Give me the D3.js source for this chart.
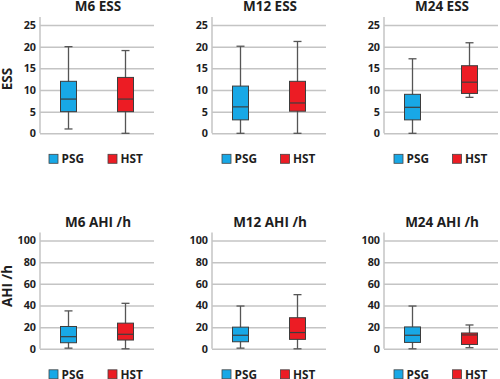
<!DOCTYPE html>
<html><head><meta charset="utf-8">
<script src="https://cdn.jsdelivr.net/npm/d3@7"></script>
<style>
body{margin:0;background:#fff;}
svg{display:block;font-family:"Open Sans",Lato,sans-serif;font-weight:700;}
</style></head>
<body>
<svg id="c" width="500" height="379"></svg>
<script>
const groups = ["PSG","HST"];
const colors = ["#18a8e6","#ec1c24"];
const titles = ["M6 ESS","M12 ESS","M24 ESS","M6 AHI /h","M12 AHI /h","M24 AHI /h"];
const yLabels = ["ESS","AHI /h"];
const essTicks = [0,5,10,15,20,25];
const ahiTicks = [0,20,40,60,80,100];
// [min, q1, median, q3, max] for PSG, HST
const m6ESS  = [[1,5,7.9,12,20],[0,5,7.9,12.9,19.1]];
const m12ESS = [[0,3.1,6.1,10.9,20.1],[0,5.1,7,12,21.2]];
const m24ESS = [[0,3.1,6,9,17.2],[8.3,9.2,11.8,15.6,20.9]];
const m6AHI  = [[0.6,5.6,11.2,20.6,35],[0,8.1,13.4,23.7,42]];
const m12AHI = [[0.6,6.5,12.5,20,39.5],[0,8.7,15,28.7,50]];
const m24AHI = [[0,5.9,12.5,20.2,39.5],[1,4,12.8,14.6,22]];

const panelData = [m6ESS,m12ESS,m24ESS,m6AHI,m12AHI,m24AHI];
const svg = d3.select("#c");
const axisX = [40,212,384];
const rowTop = [25,240.5];
const W = 114, H = 108.3;
const FONT = "'Open Sans', Lato, sans-serif";

panelData.forEach((data,i)=>{
  const row = Math.floor(i/3), col = i%3;
  const g = svg.append("g").attr("transform",`translate(${axisX[col]},${rowTop[row]})`);
  const ticks = row===0 ? essTicks : ahiTicks;
  const y = d3.scaleLinear().domain([0, d3.max(ticks)]).range([H,0]);
  const x = d3.scaleBand().domain(groups).range([0,W]);
  const ax = g.append("g").call(d3.axisLeft(y).tickValues(ticks).tickSize(-W).tickPadding(4));
  ax.select(".domain").remove();
  ax.selectAll(".tick line").attr("stroke","#c4c4c4").attr("stroke-width",1.5);
  ax.selectAll(".tick text").attr("fill","#1e1e1e").attr("font-size",10.8).attr("font-weight",700)
    .attr("font-family",FONT);
  g.append("line").attr("x1",0).attr("x2",0).attr("y1",-8).attr("y2",H)
    .attr("stroke","#c4c4c4").attr("stroke-width",1.5);
  g.append("text").attr("x",W/2+1).attr("y",-14).attr("text-anchor","middle")
    .attr("font-size",13.5).attr("fill","#1e1e1e").text(titles[i]);
  const bw = 16, cw = 8;
  data.forEach((d,j)=>{
    const cx = x(groups[j]) + x.bandwidth()/2;
    const bg = g.append("g");
    bg.append("line").attr("x1",cx).attr("x2",cx).attr("y1",y(d[0])).attr("y2",y(d[4]))
      .attr("stroke","#555").attr("stroke-width",1.3);
    [d[0],d[4]].forEach(v=>bg.append("line").attr("x1",cx-cw/2).attr("x2",cx+cw/2)
      .attr("y1",y(v)).attr("y2",y(v)).attr("stroke","#555").attr("stroke-width",1.3));
    bg.append("rect").attr("x",cx-bw/2).attr("width",bw).attr("y",y(d[3]))
      .attr("height",y(d[1])-y(d[3])).attr("fill",colors[j]).attr("stroke","#3d3d3d").attr("stroke-width",1);
    bg.append("line").attr("x1",cx-bw/2).attr("x2",cx+bw/2).attr("y1",y(d[2])).attr("y2",y(d[2]))
      .attr("stroke","#3d3d3d").attr("stroke-width",1.2);
  });
  const lg = g.append("g").attr("transform",`translate(0,${H+21})`);
  groups.forEach((name,j)=>{
    const lx = col===0 ? [9,68][j] : [10,68.5][j];
    lg.append("rect").attr("x",lx).attr("y",0).attr("width",9).attr("height",9)
      .attr("fill",colors[j]).attr("stroke","#444").attr("stroke-width",0.8);
    lg.append("text").attr("x",lx+12.5).attr("y",9).attr("font-size",11.8).attr("fill","#1e1e1e").text(name);
  });
});
[[7,79,yLabels[0]],[7,286,yLabels[1]]].forEach(([lx,ly,t])=>{
  svg.append("text").attr("transform",`translate(${lx+5},${ly}) rotate(-90)`)
    .attr("text-anchor","middle").attr("font-size",13.5).attr("fill","#1e1e1e").text(t);
});
</script>
</body></html>
